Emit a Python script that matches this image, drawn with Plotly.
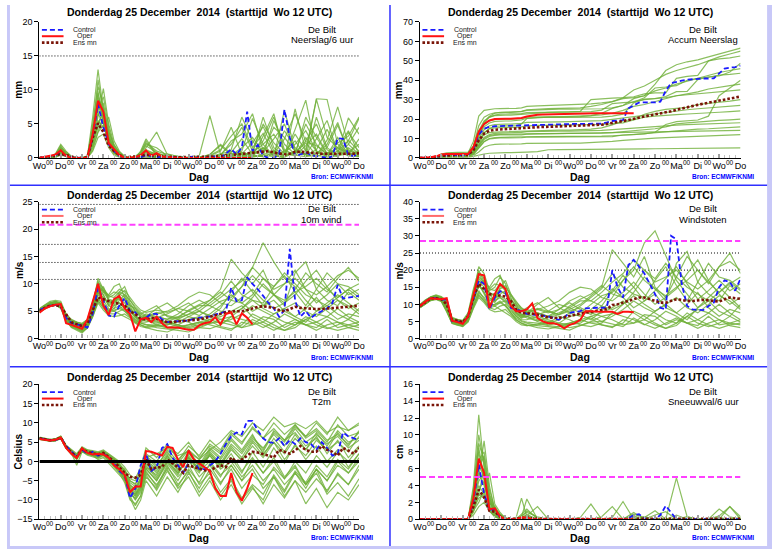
import plotly.graph_objects as go

W, H = 778, 554
FONT = "Liberation Sans, Arial, sans-serif"

# ---------------- axes / labels ----------------
DAYS = ["Wo", "Do", "Vr", "Za", "Zo", "Ma", "Di", "Wo", "Do", "Vr", "Za", "Zo", "Ma", "Di", "Wo", "Do"]
MIDNIGHT = "00"
T6 = list(range(0, 361, 6))                                   # control / ens-mean time (h)
T_OPER = list(range(0, 241, 6))                               # oper run time (h)
T_MEM = list(range(0, 121, 6)) + list(range(132, 361, 12))    # member time (h)
TITLE = "Donderdag 25 December\u00a0 2014\u00a0 (starttijd\u00a0 Wo 12 UTC)"
STATION = "De Bilt"
SOURCE = "Bron: ECMWF/KNMI"

# ---------------- Neerslag/6 uur (mm) ----------------
prec_ctrl = [0,0.1,0.2,0.4,0.8,0.3,0.1,0,0,0, 3.0,7.9,4.5,2.0,1.0,0.3,0,0,0,0.1,
             0.4,0.2,0.1,0.2,0.2,0.1,0.1,0,0.1,0.2, 0,0,0.1,0.2,0.1,0.6,1.3,0.5,1.5,6.8,
             1.0,1.9,0.3,0,0,0.5,7.1,3.0,0.3,0.5, 0.8,0.4,0.3,0.1,0,0.2,2.9,2.8,0.4,0.3, 0.6]
prec_oper = [0,0.1,0.3,0.5,1.1,0.3,0,0,0,0, 3.5,8.4,6.8,2.2,1.3,0.4,0,0,0.1,0.4,
             1.1,0.3,0.7,0.2,0.1,0,0,0,0,0, 0,0,0,0,0,0,0,0,0,0, 0]
prec_mean = [0,0.1,0.2,0.3,0.6,0.4,0.1,0,0,0.1, 3.0,5.1,3.8,1.8,1.0,0.4,0.1,0.1,0.2,0.3,
             0.5,0.4,0.3,0.2,0.2,0.1,0.1,0.1,0.1,0.1, 0.2,0.2,0.2,0.2,0.3,0.3,0.4,0.5,0.6,0.7,
             0.8,0.8,0.9,1.0,0.8,0.6,0.5,0.6,0.9,0.9, 0.8,0.7,0.6,0.6,0.6,0.6,0.5,0.5,0.5,0.6, 0.7]
prec_members = [
    [0,0,0.2,0.5,1.8,0.6,0.1,0,0,0.2,6.0,13.0,7.0,3.0,1.5,0.5,0.1,0,0.2,0.8,2.5,
     0.3,0.1,0,0,0.2,0.1,0.5,2.0,4.5,1.0,0.3,5.5,2.0,0.5,3.0,1.0,0.2,1.5,4.0,0.5],
    [0,0,0.1,0.3,1.2,0.4,0,0,0,0,2.0,6.0,10.2,5.0,2.0,0.8,0.2,0,0,0.2,0.5,
     0.1,0,0,0.1,0.3,6.2,0.5,0.2,0,0.3,1.5,0.4,0,7.2,1.0,8.7,8.6,2.0,0.5,1.0],
    [0,0,0,0.2,0.8,0.3,0,0,0,0,1.5,4.0,6.2,2.5,1.0,0.2,0,0,0,1.0,2.8,
     0.5,0,0,0,0,0,0.2,0.5,1.0,5.8,2.0,0.3,1.0,2.5,0.2,6.0,1.5,0.4,2.0,4.5],
    [0,0,0.2,0.4,1.5,0.8,0.2,0,0,0.1,3.5,9.5,5.0,2.0,0.8,0.3,0,0,0.3,0.5,0.4,
     0.2,0.6,0.2,0,0,0.3,1.0,4.5,0.5,0.2,3.2,6.5,0.5,0.8,5.0,2.0,0.4,3.0,0.3,0.2],
    [0,0,0,0.1,0.6,0.2,0,0,0,0,1.0,3.0,3.5,1.5,0.4,0.1,0,0,0,0.1,0.3,
     0,0,0,0,0,0,0,0.3,0.8,0.4,0.2,0.8,4.0,1.5,0.3,0.5,2.0,5.2,0.8,0.3],
    [0,0,0.1,0.3,1.0,0.5,0.1,0,0,0.3,4.5,7.5,8.0,4.0,1.8,0.6,0.1,0,0,0.3,1.5,
     3.8,0.5,0.1,0,0,0.2,0,1.2,6.0,2.5,0.5,1.0,0.2,4.2,8.5,0.8,0.3,1.0,2.5,5.8],
    [0,0,0,0.2,0.9,0.3,0,0,0,0,2.5,5.5,4.5,6.0,2.5,1.0,0.2,0,0,0.2,0.6,
     0.2,0.1,0,0,0,0,0,0,0.3,1.0,5.0,2.2,0.6,0.3,1.8,3.5,0.6,0.2,1.2,0.4],
    [0,0,0.2,0.6,2.0,1.0,0.2,0,0,0,3.0,8.0,6.0,3.5,1.2,0.4,0,0,0.1,0.4,1.0,
     0.6,0.2,0.1,0,0,0.5,2.0,0.6,0.2,0.1,0.4,0.2,7.0,1.2,0.5,2.8,5.5,0.8,3.8,1.5],
    [0,0,0,0.1,0.5,0.2,0,0,0,0,1.8,4.5,5.5,2.0,0.6,0.2,0,0,0,0,0.2,
     0,0,0,0,0,0,0,0,0.2,0.5,1.5,0.3,0.1,0.8,2.2,0.4,0.1,0.3,0.6,0.2],
    [0,0,0.1,0.4,1.3,0.6,0.1,0,0,0.1,5.0,10.5,7.5,3.0,1.0,0.3,0,0,0.2,0.6,2.0,
     1.5,0.3,0.1,0,0,0.1,0.3,2.5,3.5,6.5,1.0,4.5,3.0,1.0,0.6,8.6,3.0,1.5,0.5,2.8],
    [0,0,0,0.2,0.7,0.3,0,0,0,0,2.2,5.0,7.0,3.0,1.0,0.4,0.1,0,0,0.1,0.2,
     0.1,0,0,0,0,0,0.1,0.6,0.3,0.8,2.5,6.0,1.2,0.4,0.2,0.5,1.5,4.8,1.0,0.6],
    [0,0,0.1,0.3,1.1,0.4,0,0,0,0,3.2,6.5,5.0,2.2,0.8,0.2,0,0,0,0.3,0.8,
     0.4,0.1,0,0,0,0,0.4,0.3,0.6,0.3,0.2,0.5,0.8,2.0,4.0,1.0,0.4,0.6,5.9,3.5],
    [0,0,0.1,0.2,0.9,0.5,0,0,0,0,2.8,7.0,9.0,4.5,1.5,0.5,0.1,0,0,0.2,0.9,
     0.3,0,0,0,0.1,0.5,1.8,0.4,1.5,3.0,0.8,2.8,5.0,1.0,0.4,1.2,4.2,1.0,0.3,0.8],
    [0,0,0.2,0.5,1.6,0.7,0.1,0,0,0.2,4.0,11.5,6.5,2.8,1.2,0.4,0,0,0.1,0.5,1.8,
     0.8,0.2,0,0,0,0,0,0.8,2.8,0.5,6.0,1.5,0.3,3.5,1.0,0.4,2.6,7.5,2.0,0.5],
    [0,0,0,0.1,0.4,0.2,0,0,0,0,1.2,3.8,4.8,2.5,0.8,0.2,0,0,0,0,0.1,
     0,0,0,0,0,0.2,0,0,0,0.2,0.3,0.5,0.2,1.0,0.4,0.2,0.8,0.3,1.5,0.4],
    [0,0,0.1,0.4,1.4,0.6,0.1,0,0,0,3.8,8.8,7.2,3.2,1.4,0.6,0.2,0,0.2,0.8,2.2,
     1.0,0.5,0.2,0,0.1,0.4,1.2,3.2,5.0,1.5,3.6,0.6,2.8,6.5,2.4,1.8,0.6,2.2,3.2,6.0],
    [0,0,0,0.3,1.0,0.4,0,0,0,0,2.0,4.8,6.8,3.8,1.8,0.8,0.2,0,0,0.1,0.4,
     0.1,0,0,0,0,0,0,0.2,0.6,2.2,4.6,1.0,0.4,0.6,2.5,5.0,1.2,0.5,2.6,1.0],
    [0,0,0.2,0.5,1.4,0.5,0.1,0,0,0.1,3.0,9.8,5.5,2.0,0.9,0.3,0,0,0.1,0.3,1.2,
     0.5,0.2,0,0,0,0.2,0.6,1.0,0.4,0.8,2.0,3.5,1.0,0.5,6.0,3.0,0.6,1.5,0.8,2.0],
]

# ---------------- Accum Neerslag (mm) ----------------
acc_ctrl = [0,0,0.2,0.5,1.2,1.4,1.5,1.5,1.5,1.5, 4.5,12.0,15.0,16.0,16.3,16.4,16.4,16.4,16.4,16.5,
            16.8,17.0,17.0,17.1,17.2,17.3,17.3,17.4,17.5,17.5, 17.5,17.5,17.5,17.6,17.7,18.3,19.0,19.2,19.5,25.5,
            27.0,28.5,28.6,28.6,28.6,29.0,34.5,38.5,39.3,39.8, 40.3,40.6,40.8,40.9,40.9,41.0,43.5,46.0,46.5,46.8, 47.5]
acc_oper = [0,0.1,0.3,0.8,1.7,2.0,2.0,2.0,2.0,2.0, 5.5,13.5,17.5,19.3,20.0,20.2,20.2,20.2,20.3,20.6,
            21.3,21.8,22.2,22.3,22.4,22.5,22.6,22.7,22.8,22.9, 22.9,22.9,23.0,23.0,23.0,23.0,23.0,23.0,23.0,23.0, 23.0]
acc_mean = [0,0.1,0.2,0.5,1.1,1.3,1.4,1.4,1.4,1.5, 4.0,9.0,12.5,14.0,14.5,14.7,14.8,14.9,15.0,15.2,
            15.5,15.6,15.8,15.9,16.0,16.0,16.1,16.1,16.2,16.3, 16.4,16.5,16.6,16.8,17.1,17.5,17.9,18.4,19.0,19.5,
            20.0,20.6,21.3,21.9,22.4,22.9,23.4,24.0,24.8,25.5, 26.1,26.7,27.3,27.9,28.4,28.8,29.3,29.9,30.5,31.0, 31.6]
acc_members = [
    [0,0,0.2,0.6,1.8,2.2,2.3,2.3,2.3,2.5,8.5,21.5,24.5,25.0,25.3,25.4,25.4,25.4,25.5,25.8,26.5,
     26.8,27.0,27.0,27.1,27.3,27.8,28.3,29.0,30.5,31.0,32.0,38.0,45.0,48.0,49.5,50.5,52.0,53.5,55.0,56.5],
    [0,0,0.1,0.4,1.2,1.6,1.7,1.7,1.7,1.8,4.0,10.0,18.0,21.0,22.0,22.5,22.6,22.6,22.6,22.8,23.3,
     23.5,23.6,23.6,23.7,24.0,30.0,30.5,30.8,31.0,31.5,33.0,33.5,33.5,41.0,42.0,42.5,50.0,51.0,51.5,52.5],
    [0,0,0,0.2,0.8,1.1,1.1,1.1,1.1,1.1,2.6,6.6,12.8,15.3,16.3,16.5,16.5,16.5,16.5,17.5,20.3,
     20.8,20.8,20.8,20.8,20.8,20.8,21.0,21.5,22.5,28.3,30.3,30.6,31.6,34.1,34.3,40.3,41.8,42.2,44.2,48.7],
    [0,0,0.2,0.6,2.0,2.6,2.8,2.8,2.8,2.9,6.0,14.0,19.0,21.0,21.8,22.0,22.0,22.0,22.2,22.5,22.8,
     23.0,23.4,23.6,23.6,23.6,23.8,24.6,28.0,28.5,28.7,31.0,36.0,36.5,37.2,40.0,41.0,41.4,42.6,43.0,43.6],
    [0,0,0,0.1,0.6,0.8,0.8,0.8,0.8,0.8,1.8,4.8,8.3,9.8,10.2,10.3,10.3,10.3,10.3,10.4,10.7,
     10.7,10.7,10.7,10.7,10.7,10.7,10.7,11.0,11.8,12.2,12.4,13.2,17.2,18.7,19.0,19.5,21.5,32.0,36.0,40.0],
    [0,0,0.1,0.4,1.4,1.9,2.0,2.0,2.0,2.2,5.5,12.0,18.5,21.5,23.0,23.5,23.6,23.6,23.6,23.8,24.5,
     24.8,25.0,25.1,25.1,25.1,25.3,25.3,25.8,27.0,29.0,30.0,30.5,31.0,32.0,32.5,33.0,33.5,34.0,34.5,35.0],
    [0,0,0.2,0.5,1.6,2.0,2.1,2.1,2.1,2.1,4.0,9.0,12.0,13.0,13.3,13.4,13.4,13.4,13.5,13.7,14.0,
     14.2,14.3,14.3,14.3,14.5,14.8,15.5,17.0,19.0,20.0,22.5,24.0,25.0,25.5,26.0,27.5,28.0,28.5,29.2,30.0],
    [0,0,0,0.3,1.0,1.3,1.3,1.3,1.3,1.3,3.0,8.0,13.0,15.0,15.5,15.6,15.6,15.6,15.7,16.0,16.5,
     16.7,16.8,16.8,16.8,16.9,17.0,17.2,17.6,18.0,19.5,21.0,21.5,22.0,22.3,22.6,23.0,23.3,23.5,23.8,24.2],
    [0,0,0.1,0.3,1.1,1.4,1.5,1.5,1.5,1.5,2.5,6.5,10.0,11.5,12.0,12.1,12.1,12.1,12.1,12.2,12.4,
     12.5,12.5,12.5,12.6,12.6,12.6,12.8,13.0,13.5,14.0,14.5,15.0,16.0,17.5,18.0,18.5,19.0,19.3,19.6,20.0],
    [0,0,0,0.2,0.8,1.0,1.0,1.0,1.0,1.0,2.0,5.0,8.5,10.0,10.5,10.6,10.6,10.6,10.6,10.7,10.9,
     11.0,11.0,11.0,11.0,11.0,11.1,11.2,11.4,11.6,12.0,12.5,13.0,13.5,14.0,14.5,14.8,15.0,15.3,15.6,16.0],
    [0,0,0,0.1,0.5,0.6,0.6,0.6,0.6,0.6,1.2,3.0,5.5,6.5,7.0,7.1,7.1,7.1,7.1,7.2,7.5,
     7.6,7.6,7.6,7.6,7.6,7.8,8.0,8.5,9.0,9.5,10.0,10.2,10.4,10.6,10.8,11.0,11.3,11.6,11.8,12.0],
    [0,0,0,0.1,0.3,0.4,0.4,0.4,0.4,0.4,0.8,1.5,2.0,2.4,2.6,2.7,2.7,2.7,2.7,2.8,3.0,
     3.2,4.2,4.3,4.3,4.3,4.4,4.4,4.5,4.5,4.6,4.6,4.7,4.8,4.8,4.9,5.0,5.0,5.0,5.1,5.2],
    [0,0,0.2,0.5,1.6,2.0,2.1,2.1,2.1,2.2,6.0,16.5,21.0,22.5,23.2,23.4,23.4,23.4,23.6,24.0,24.8,
     25.2,25.4,25.5,25.5,25.8,26.5,27.5,29.0,31.0,35.0,37.0,40.0,43.0,45.0,46.5,48.0,50.0,52.0,53.5,55.0],
    [0,0,0.1,0.3,1.2,1.5,1.6,1.6,1.6,1.7,4.5,11.5,16.0,18.0,18.8,19.0,19.0,19.0,19.2,19.6,20.4,
     20.8,21.0,21.0,21.1,21.3,21.8,23.0,25.5,27.0,30.5,32.0,34.5,36.0,38.0,39.5,41.0,42.5,44.0,45.0,46.0],
    [0,0,0.1,0.4,1.3,1.7,1.8,1.8,1.8,1.9,5.0,12.5,17.0,19.0,19.8,20.0,20.0,20.0,20.1,20.4,21.0,
     21.2,21.3,21.3,21.4,21.5,21.8,22.2,23.0,24.5,26.5,27.5,29.0,30.5,32.0,33.0,34.0,35.5,36.5,37.2,38.0],
    [0,0,0,0.2,0.9,1.2,1.2,1.2,1.2,1.2,3.5,9.5,14.5,16.5,17.2,17.4,17.4,17.4,17.5,17.8,18.3,
     18.5,18.6,18.6,18.7,18.8,19.0,19.2,19.8,20.5,21.5,22.0,22.8,23.5,24.0,24.8,25.3,25.8,26.2,26.6,27.0],
    [0,0,0.1,0.3,1.0,1.3,1.4,1.4,1.4,1.4,3.0,7.0,10.5,12.0,12.6,12.8,12.8,12.8,12.9,13.1,13.5,
     13.7,13.8,13.8,13.8,13.9,14.0,14.2,14.6,15.0,15.5,16.0,16.3,16.6,16.9,17.1,17.3,17.5,17.7,17.9,18.1],
    [0,0,0,0.2,0.7,0.9,0.9,0.9,0.9,0.9,2.2,6.0,9.5,11.0,11.6,11.8,11.8,11.8,11.8,11.9,12.2,
     12.3,12.3,12.3,12.3,12.4,12.5,12.6,12.8,13.0,13.2,13.3,13.4,13.5,13.6,13.7,13.8,13.9,14.0,14.1,14.2],
]

# ---------------- 10m wind (m/s) ----------------
wind_ctrl = [5.2,5.6,6.0,6.2,5.8,3.8,2.8,2.6,2.4,2.0, 4.5,9.3,7.0,4.2,4.0,6.0,7.4,5.0,4.8,3.5,
             3.8,4.5,4.5,3.5,3.0,3.1,3.2,3.3,3.3,3.6, 3.8,4.0,4.0,4.4,4.6,5.0,9.3,6.8,7.0,11.2,
             10.0,9.0,7.8,6.5,5.5,4.0,5.2,16.4,7.0,4.0, 5.0,3.8,4.5,5.0,5.5,6.5,9.8,7.3,7.5,7.6, 7.8]
wind_oper = [4.7,5.5,5.9,6.2,6.3,2.8,2.5,2.2,1.8,3.5, 7.0,10.0,6.0,4.3,7.2,7.8,5.5,4.5,1.3,3.5,
             3.8,3.0,4.0,2.8,2.0,2.0,2.0,1.8,1.6,1.6, 2.4,2.8,3.0,3.9,2.6,4.5,4.8,2.6,4.6,3.8, 2.6]
wind_mean = [5.0,5.6,6.0,6.1,5.9,4.5,3.0,2.6,2.3,2.8, 5.0,7.5,7.2,6.8,6.5,6.4,6.0,5.0,4.5,3.6,
             3.5,3.8,3.6,3.2,3.0,3.0,3.1,3.2,3.2,3.3, 3.5,3.7,4.0,4.2,4.5,4.8,5.0,5.0,5.0,5.2,
             5.5,5.8,5.9,5.8,5.6,5.2,5.0,5.4,5.8,5.6, 5.5,5.4,5.4,5.4,5.5,5.5,5.6,5.7,5.8,5.9, 6.0]
wind_members = [
    [5.0,5.8,6.4,6.8,6.5,4.0,3.0,2.5,2.0,3.0,6.0,11.0,9.0,7.5,8.0,9.0,8.5,6.5,5.0,4.5,5.0,
     6.0,4.0,3.5,4.5,5.5,7.0,9.0,14.5,12.0,10.0,12.5,8.0,6.5,9.0,12.0,10.0,8.5,11.0,13.0,10.5],
    [5.3,6.0,6.3,6.5,6.0,3.5,2.5,2.2,1.5,2.5,5.0,8.5,6.5,5.0,6.0,8.5,9.5,7.0,5.5,4.0,3.5,
     2.5,2.0,2.5,3.5,4.0,3.0,4.5,7.0,9.5,13.0,17.5,14.0,11.0,9.5,7.0,5.0,6.5,8.0,6.5,5.0],
    [4.8,5.5,6.0,6.2,5.5,3.2,2.0,1.5,1.0,2.0,4.0,7.0,5.5,4.5,4.5,5.0,5.5,4.0,3.0,2.5,2.0,
     1.5,1.2,2.0,2.5,3.0,2.5,2.0,1.5,3.0,2.5,4.0,3.5,2.0,3.0,2.5,2.0,3.5,2.0,2.5,3.0],
    [5.5,6.2,6.8,7.0,6.8,4.5,3.5,3.0,2.8,3.5,7.0,10.0,8.0,6.0,5.5,7.0,8.0,6.0,4.0,3.0,4.0,
     5.5,6.5,5.0,4.0,5.0,6.5,8.0,10.5,8.0,7.0,6.5,9.5,11.5,8.5,6.0,9.0,12.0,10.0,9.5,8.0],
    [5.0,5.6,6.1,6.3,5.8,4.0,2.8,2.4,2.2,2.8,5.5,8.0,7.5,6.5,7.0,6.5,5.5,4.5,3.5,3.0,3.0,
     3.5,3.0,2.5,2.0,2.5,3.5,4.0,5.0,6.0,4.0,3.0,4.5,5.5,4.0,3.0,5.0,6.0,4.5,3.5,5.5],
    [5.2,5.9,6.5,6.6,6.2,3.8,2.6,2.0,1.8,2.5,5.5,9.5,8.5,8.0,9.5,10.0,7.5,5.5,4.0,3.5,4.5,
     4.0,3.5,4.5,6.0,7.0,6.0,5.0,4.5,5.5,7.5,10.0,8.0,6.0,12.0,14.0,9.0,7.0,6.0,8.5,7.0],
    [4.9,5.6,6.2,6.4,6.0,3.5,2.4,2.0,1.6,2.2,4.5,7.5,6.0,5.0,5.5,6.0,5.0,4.0,3.2,2.8,2.5,
     2.0,1.8,1.5,1.2,2.0,2.8,3.5,3.0,2.0,2.5,3.0,2.0,1.5,2.5,4.0,3.0,2.0,1.5,2.0,2.5],
    [5.4,6.1,6.6,6.8,6.5,4.2,3.2,2.8,2.4,3.2,6.0,9.0,8.0,6.0,6.5,7.5,7.0,6.0,5.5,4.5,4.0,
     4.5,5.0,6.0,7.5,8.5,8.0,6.5,6.0,7.5,9.0,7.0,5.5,6.5,8.0,10.5,12.5,9.5,7.0,5.5,6.5],
    [5.1,5.7,6.2,6.5,6.1,3.8,2.7,2.3,1.9,2.6,5.0,8.5,7.0,5.5,5.0,5.5,6.0,5.0,3.8,3.2,3.5,
     3.0,2.5,3.0,4.0,3.5,4.5,6.0,8.0,6.5,5.0,6.0,7.0,5.0,4.0,5.5,7.5,5.0,3.5,4.5,4.0],
    [5.0,5.5,6.0,6.2,5.9,3.6,2.5,2.1,1.7,2.4,4.8,8.2,9.5,7.0,6.0,6.5,6.0,5.5,4.8,4.0,3.8,
     3.2,2.8,2.2,2.5,3.0,3.5,2.8,3.5,4.5,6.0,5.0,4.0,3.0,2.5,3.5,4.5,4.0,3.0,2.5,2.0],
    [5.3,6.0,6.4,6.6,6.3,4.4,3.3,2.9,2.6,3.3,6.5,10.5,8.5,7.0,7.0,7.5,7.0,5.0,4.0,3.5,3.5,
     4.0,3.5,4.0,5.0,6.0,6.0,7.5,9.0,10.5,13.0,11.0,9.0,10.0,11.0,9.0,8.0,9.5,11.5,12.5,11.0],
    [4.9,5.5,6.1,6.3,5.8,3.4,2.2,1.8,1.3,2.0,4.2,6.8,5.8,4.8,5.0,4.5,4.0,3.5,2.8,2.2,2.0,
     2.2,2.5,3.5,3.0,2.0,1.8,2.5,4.0,3.5,3.0,2.0,3.0,4.5,3.5,2.5,3.0,4.0,5.5,4.0,3.0],
    [5.1,5.8,6.3,6.6,6.3,4.1,3.1,2.7,2.5,3.1,5.8,9.8,8.8,7.2,6.8,8.0,8.8,7.5,6.2,5.2,4.8,
     5.2,4.8,5.5,6.5,5.0,4.0,5.5,8.5,11.0,8.5,6.0,8.0,10.0,12.5,9.0,6.5,8.0,10.0,8.0,9.0],
    [4.8,5.4,5.9,6.1,5.6,3.3,2.1,1.7,1.2,1.9,4.0,6.5,5.2,4.2,4.0,4.2,4.5,3.8,3.0,2.5,2.2,
     2.5,3.0,2.5,1.8,2.2,2.8,3.0,2.5,2.0,3.5,2.5,1.5,2.5,3.5,2.5,1.5,2.5,3.0,2.0,1.5],
    [5.2,5.9,6.5,6.7,6.4,4.3,3.4,3.0,2.7,3.4,6.2,9.0,8.8,7.8,7.5,8.5,8.0,7.0,5.8,4.8,4.2,
     3.8,4.5,5.5,5.0,4.2,5.5,6.8,7.5,9.5,11.5,9.5,8.0,7.0,8.5,9.5,11.0,9.0,7.5,9.0,10.0],
    [5.0,5.7,6.2,6.4,6.0,3.7,2.6,2.2,1.9,2.7,5.2,8.8,7.5,6.2,6.8,7.2,6.5,5.2,4.2,3.6,3.2,
     2.8,3.2,3.8,4.5,5.0,4.2,3.5,4.0,5.5,7.0,5.5,4.5,5.5,6.5,5.0,4.0,5.5,7.0,6.0,4.5],
    [5.3,6.0,6.5,6.7,6.3,4.0,2.9,2.5,2.2,3.0,5.6,10.2,9.2,7.8,8.5,8.2,7.5,6.2,5.0,4.2,4.0,
     4.8,4.2,3.8,5.2,6.2,7.0,8.5,7.0,6.5,8.0,11.0,9.5,12.0,10.0,8.0,7.0,6.0,7.5,9.0,7.5],
    [4.9,5.5,6.0,6.2,5.7,3.4,2.3,1.9,1.4,2.1,4.4,7.2,6.2,5.2,5.2,5.5,5.0,4.2,3.4,2.8,2.6,
     2.4,2.0,1.8,2.2,2.8,3.2,2.2,1.8,2.5,4.5,3.5,2.5,1.5,2.0,3.5,2.5,1.8,2.5,3.5,2.5],
]

# ---------------- Windstoten (m/s) ----------------
gust_ctrl = [9.5,10.8,11.8,11.8,11.3,11.5,5.0,5.0,4.5,6.5, 11.5,17.0,16.0,8.5,12.0,13.8,13.5,9.0,8.5,8.0,
             7.2,7.0,6.8,6.6,6.5,6.0,5.5,6.2,7.5,7.8, 8.0,8.8,9.0,9.0,9.0,9.0,20.0,15.0,12.0,21.5,
             23.0,21.0,19.0,16.0,13.0,9.0,8.5,30.0,29.0,16.0, 9.5,8.5,8.5,8.3,9.5,10.5,15.0,17.0,16.5,14.0, 17.5]
gust_oper = [9.5,10.8,11.8,11.7,11.5,11.8,5.2,4.8,4.3,6.5, 13.0,18.8,18.5,9.0,13.0,16.0,14.5,9.5,8.0,8.0,
             8.5,10.3,6.0,5.0,4.5,4.5,4.0,3.0,4.0,4.5, 5.5,8.0,8.0,7.8,7.8,7.8,7.8,7.2,7.8,7.8, 7.7]
gust_mean = [9.5,10.7,11.7,11.8,11.5,10.0,5.5,5.2,4.8,6.5, 12.0,16.0,14.5,13.0,12.8,12.5,12.3,11.0,8.5,7.5,
             7.5,7.3,7.0,6.5,6.2,6.0,6.0,6.2,6.6,7.0, 7.4,7.6,7.8,8.0,8.2,8.6,9.8,10.0,10.5,11.0,
             11.5,12.0,12.0,11.5,11.0,10.5,10.5,11.0,11.5,11.3, 11.0,11.0,11.2,11.3,11.2,11.0,10.8,11.5,12.0,11.8, 11.6]
gust_members = [
    [9.3,10.5,11.5,12.0,11.8,10.5,5.5,5.0,4.8,7.0,13.0,21.0,19.0,14.0,15.0,18.0,16.0,12.0,9.0,8.0,9.0,
     10.5,8.0,7.0,8.5,10.0,12.5,15.0,26.0,22.0,18.0,24.0,15.0,12.0,18.0,24.0,20.0,16.0,21.0,25.0,19.0],
    [9.8,11.0,12.0,12.5,12.0,9.0,5.0,4.5,4.0,6.0,11.0,16.0,13.0,10.0,11.0,15.0,17.0,13.0,10.0,7.0,6.5,
     5.0,4.0,4.5,6.5,7.0,5.5,8.0,12.0,17.0,20.0,28.0,31.5,24.0,17.0,13.0,9.0,12.0,15.0,12.0,9.0],
    [9.0,10.2,11.2,11.5,11.0,8.0,4.5,4.0,3.8,5.0,9.0,13.0,11.0,9.0,8.5,9.5,10.0,7.5,5.5,4.5,4.0,
     3.2,2.8,3.5,4.5,5.5,4.5,4.0,3.2,5.5,4.5,7.0,6.5,4.0,5.5,4.5,3.8,6.5,4.0,4.5,5.5],
    [10.0,11.3,12.2,12.8,12.3,11.0,6.0,5.5,5.2,7.2,14.0,19.0,16.0,12.0,10.5,13.0,14.0,11.0,7.5,6.0,7.5,
     10.0,12.0,9.0,7.5,9.5,12.0,14.5,19.0,15.0,13.0,12.0,17.0,21.0,15.5,11.0,16.5,22.0,18.0,17.0,14.5],
    [9.4,10.6,11.6,11.9,11.4,9.5,5.3,4.9,4.6,6.5,12.0,15.0,14.5,12.5,13.0,12.0,10.5,8.5,6.5,5.5,5.5,
     6.5,5.5,4.5,4.0,4.5,6.5,7.5,9.0,11.0,7.5,5.5,8.0,10.0,7.5,5.5,9.0,11.0,8.0,6.5,10.0],
    [9.6,10.9,11.9,12.2,11.7,10.0,5.4,4.7,4.4,6.2,12.5,18.0,16.5,15.0,17.5,18.5,14.0,10.5,7.5,6.5,8.5,
     7.5,6.5,8.5,11.0,12.5,11.0,9.5,8.5,10.0,13.5,18.0,14.5,11.0,22.0,25.5,16.5,13.0,11.0,15.5,13.0],
    [9.2,10.3,11.3,11.7,11.2,8.5,4.8,4.3,3.9,5.5,10.0,14.0,11.5,9.5,10.0,11.0,9.5,7.5,6.0,5.0,4.5,
     3.8,3.5,3.0,2.5,3.8,5.0,6.5,5.5,4.0,4.5,5.5,4.0,3.0,4.5,7.5,5.5,4.0,3.0,4.0,4.5],
    [9.9,11.2,12.1,12.6,12.1,10.8,5.8,5.3,5.0,6.8,13.0,17.0,15.0,11.5,12.0,14.0,13.0,11.0,10.0,8.5,7.5,
     8.5,9.5,11.0,13.5,15.0,14.5,12.0,11.0,13.5,16.5,13.0,10.0,12.0,14.5,19.0,23.0,17.0,13.0,10.0,12.0],
    [9.5,10.7,11.6,12.0,11.5,9.8,5.2,4.8,4.5,6.3,11.5,16.0,13.5,10.5,9.5,10.5,11.0,9.0,7.0,6.0,6.5,
     5.5,4.5,5.5,7.5,6.5,8.5,11.0,14.5,12.0,9.0,11.0,13.0,9.0,7.5,10.0,13.5,9.0,6.5,8.5,7.5],
    [9.3,10.4,11.4,11.8,11.3,9.2,5.0,4.5,4.2,5.8,10.5,15.5,17.0,13.0,11.0,12.0,11.0,10.0,8.5,7.0,7.0,
     6.0,5.0,4.0,4.5,5.5,6.5,5.0,6.5,8.5,11.0,9.0,7.5,5.5,4.5,6.5,8.5,7.5,5.5,4.5,4.0],
    [9.7,11.0,12.0,12.4,12.0,11.2,6.2,5.6,5.3,7.5,14.5,20.0,16.5,13.0,13.0,14.0,13.0,9.5,7.5,6.5,6.5,
     7.5,6.5,7.5,9.0,11.0,11.0,13.5,16.5,19.0,23.0,20.0,16.5,18.0,20.0,16.5,14.5,17.0,21.0,22.5,20.0],
    [9.1,10.2,11.2,11.6,11.0,8.2,4.6,4.1,3.6,5.2,9.5,12.5,11.0,9.0,9.5,8.5,7.5,6.5,5.0,4.0,3.8,
     4.0,4.5,6.5,5.5,4.0,3.5,4.5,7.5,6.5,5.5,4.0,5.5,8.0,6.5,4.5,5.5,7.5,10.0,7.5,5.5],
    [9.4,10.6,11.7,12.1,11.6,10.2,5.6,5.1,4.7,6.6,12.5,17.5,16.0,13.5,12.5,14.5,15.5,12.5,10.5,9.0,8.0,
     8.5,7.5,8.5,10.5,8.5,7.0,9.5,14.0,18.5,15.0,11.0,14.0,17.5,21.0,16.0,11.5,14.0,17.0,14.0,16.0],
    [9.0,10.1,11.1,11.4,10.8,7.8,4.4,3.9,3.5,4.8,8.8,12.0,10.5,8.5,7.8,8.0,8.5,7.0,5.5,4.5,3.8,
     4.2,5.0,4.0,3.2,3.8,4.8,5.0,4.2,3.5,6.0,4.2,3.0,4.5,6.0,4.5,3.0,4.5,5.5,3.8,3.2],
    [9.6,10.8,11.8,12.3,11.8,10.6,5.9,5.4,5.0,6.9,13.5,16.5,16.5,14.5,14.0,16.0,15.0,13.0,11.0,8.8,7.8,
     7.0,8.0,10.0,9.0,7.5,10.0,12.5,13.5,17.0,21.0,17.0,14.5,12.5,15.0,17.0,20.0,16.5,13.5,16.0,18.0],
    [9.5,10.7,11.7,12.0,11.5,9.6,5.1,4.6,4.3,6.1,11.0,15.5,13.5,11.0,12.0,12.5,11.5,9.5,7.8,6.8,6.0,
     5.2,6.0,7.0,8.0,9.0,7.5,6.5,7.2,10.0,12.5,10.0,8.0,10.0,12.0,9.0,7.5,10.0,12.5,11.0,8.5],
    [9.8,11.1,12.1,12.5,12.0,10.4,5.6,5.1,4.8,6.7,12.0,19.5,17.5,14.5,16.0,15.5,14.0,11.5,9.5,8.0,7.5,
     8.8,8.0,7.0,9.5,11.5,13.0,15.5,13.0,12.0,15.0,20.0,17.5,22.0,18.0,15.0,13.0,11.0,13.5,16.5,14.0],
    [9.2,10.3,11.2,11.6,11.1,8.4,4.7,4.2,3.7,5.3,9.8,13.5,12.0,9.8,10.0,10.5,9.5,8.0,6.5,5.2,4.8,
     4.5,3.8,3.4,4.0,5.0,6.0,4.0,3.5,4.5,8.0,6.5,4.5,3.0,3.8,6.5,4.5,3.5,4.5,6.5,4.8],
]

# ---------------- T2m (Celsius) ----------------
t2m_ctrl = [6.0,5.8,5.5,5.5,6.2,4.0,2.5,1.2,3.0,2.0, 2.5,1.5,2.0,1.0,-0.5,-2.5,-3.5,-9.5,-7.0,-1.0,
            2.0,-2.5,-1.5,3.5,4.5,1.0,-1.0,-3.0,-0.5,0.0, -2.0,-2.0,-1.0,0.0,2.0,4.5,6.5,7.5,7.0,10.5,
            10.5,8.0,6.0,5.0,4.8,6.0,4.0,5.5,4.5,6.0, 5.0,4.5,3.0,5.0,3.5,1.5,2.0,7.5,6.5,6.0, 5.5]
t2m_oper = [5.8,5.6,5.4,5.6,6.2,3.5,2.0,0.9,3.4,2.2, 1.8,2.0,1.8,1.0,-1.0,-2.0,-3.5,-8.0,-6.5,-6.5,
            2.7,2.5,2.0,1.5,3.8,3.5,0.5,-1.5,2.8,0.5, -0.5,-1.5,-2.5,-7.0,-9.0,-9.0,-3.0,-8.0,-10.2,-7.0, -3.0]
t2m_mean = [6.0,5.7,5.5,5.6,6.2,3.8,2.3,1.2,3.2,2.4, 2.0,1.8,2.2,1.0,0.0,-1.5,-3.0,-4.0,-4.2,-3.5,
            0.5,-2.0,-1.5,-1.5,0.5,-0.5,-1.5,-3.0,-1.0,-1.5, -2.0,-2.3,-2.5,-1.5,-1.0,-1.5,1.0,0.0,0.5,1.5,
            2.5,2.3,2.0,1.5,1.0,3.0,2.5,2.0,2.8,4.0, 3.0,2.5,2.5,4.0,3.0,2.5,1.5,3.5,2.8,2.0, 3.5]
t2m_members = [
    [6.2,5.8,5.6,5.8,6.5,4.0,2.8,1.5,3.5,2.8,2.5,2.0,2.5,1.5,0.5,-1.0,-2.0,-5.0,-6.0,-3.0,1.0,
     2.0,3.5,1.5,2.5,0.5,3.0,5.0,8.0,6.5,10.0,8.0,11.5,9.0,10.0,8.5,10.5,7.5,9.0,8.0,10.0],
    [5.8,5.5,5.3,5.4,6.0,3.5,2.0,0.8,2.8,2.0,1.5,1.0,1.8,0.5,-1.0,-2.5,-4.5,-8.0,-10.0,-8.0,-3.0,
     -6.0,-2.0,-7.0,-4.0,-9.0,-5.0,-10.0,-6.0,-11.0,-7.0,-10.0,-4.0,-8.0,-3.0,-6.0,-2.0,-5.0,-1.0,-3.0,0.0],
    [6.1,5.7,5.5,5.7,6.3,3.8,2.5,1.2,3.2,2.4,2.2,1.8,2.2,1.2,0.0,-1.5,-3.0,-6.0,-7.5,-5.0,0.0,
     -3.0,1.0,-2.0,2.5,-1.5,3.0,0.5,4.5,2.0,6.0,3.5,7.0,4.0,8.5,5.0,7.0,4.5,6.5,3.5,5.5],
    [6.0,5.6,5.4,5.5,6.1,3.6,2.2,-1.0,2.5,1.8,1.5,0.5,1.0,-0.5,-2.0,-3.5,-5.0,-9.5,-12.5,-10.0,-5.0,
     -9.0,-4.0,-8.0,-3.0,-7.0,-2.0,-6.0,-1.0,-5.0,0.5,-3.0,1.0,-4.0,-1.0,-6.0,-2.0,-8.0,-3.0,-6.0,-1.0],
    [5.9,5.6,5.4,5.6,6.2,3.9,2.6,1.6,3.6,2.6,2.4,2.2,2.8,1.8,0.8,-0.5,-2.5,-4.5,-5.0,-2.5,2.0,
     0.0,4.0,2.0,5.0,1.0,4.0,2.0,6.0,3.0,7.0,2.0,5.0,0.5,4.0,1.5,5.5,3.0,7.5,4.0,8.0],
    [6.3,5.9,5.7,5.9,6.6,4.2,3.0,2.0,3.8,3.0,2.8,2.5,3.0,2.0,1.0,0.0,-1.5,-3.5,-4.5,-1.5,3.5,
     1.0,4.5,0.5,3.0,-1.0,1.5,-2.0,0.0,-4.0,-1.0,-5.0,-2.0,-6.0,-3.0,-7.0,-2.0,-5.0,0.0,-3.0,1.0],
    [5.7,5.4,5.2,5.3,5.9,3.4,1.8,0.5,2.6,1.6,1.2,0.8,1.5,0.0,-1.5,-3.0,-5.5,-10.0,-11.0,-9.0,-4.0,
     -7.0,-1.5,-5.0,0.0,-3.0,2.0,-1.0,3.5,0.0,5.0,1.5,6.0,2.5,7.0,3.0,6.5,2.0,5.5,1.0,4.0],
    [6.2,5.8,5.6,5.8,6.4,4.1,2.9,1.8,3.4,2.9,2.6,2.3,2.6,1.6,0.6,-1.2,-2.8,-6.5,-8.0,-4.0,1.5,
     -1.0,2.5,-1.0,1.0,-2.5,0.0,-3.5,-1.0,-5.0,-2.0,-7.0,-4.0,-9.0,-5.0,-11.0,-7.0,-12.0,-8.0,-10.0,-6.0],
    [6.0,5.7,5.5,5.6,6.2,3.7,2.4,1.0,3.0,2.2,1.8,1.4,2.0,0.8,-0.5,-2.0,-3.5,-7.0,-9.0,-6.0,-1.0,
     -4.5,0.0,-3.5,1.5,-2.0,2.5,-0.5,4.0,1.0,5.5,2.5,7.5,5.0,9.0,6.5,10.0,7.0,11.5,8.0,9.5],
    [5.9,5.5,5.3,5.5,6.0,3.5,2.1,0.7,2.7,1.9,1.6,1.2,1.6,0.4,-0.8,-2.2,-4.0,-8.5,-9.5,-7.0,-2.0,
     -5.0,-0.5,-4.0,-1.0,-6.0,-3.0,-8.0,-4.5,-9.5,-6.0,-8.5,-3.5,-7.5,-2.5,-5.5,-1.0,-4.0,0.5,-2.0,2.0],
    [6.1,5.8,5.6,5.7,6.4,4.0,2.7,1.4,3.3,2.5,2.3,1.9,2.4,1.4,0.2,-1.0,-2.5,-5.5,-6.5,-4.5,0.5,
     -2.0,2.0,-0.5,3.0,0.5,4.5,2.5,7.0,4.5,9.0,6.0,8.5,5.5,7.5,4.0,6.0,3.0,5.0,2.5,6.5],
    [5.8,5.5,5.3,5.4,6.0,3.6,2.3,1.0,2.9,2.1,1.7,1.3,1.9,0.6,-1.2,-2.8,-4.8,-7.5,-8.5,-6.5,-1.5,
     -3.5,1.5,-2.5,0.5,-4.0,-1.0,-5.5,-2.0,-7.0,-3.5,-6.0,-1.5,-4.5,0.0,-3.0,1.5,-1.5,2.5,0.0,3.5],
    [6.0,5.7,5.4,5.6,6.3,3.9,2.5,1.3,3.3,2.3,2.0,1.6,2.3,1.1,-0.2,-1.8,-3.2,-6.8,-8.5,-5.5,-0.5,
     -4.0,0.5,-3.0,2.0,-1.0,3.5,1.0,5.5,2.5,6.5,3.0,8.0,5.5,9.5,6.0,8.0,5.0,9.5,6.5,7.5],
    [5.9,5.6,5.4,5.5,6.1,3.7,2.3,1.1,3.1,2.3,1.9,1.5,2.1,0.9,-0.6,-2.1,-3.8,-7.8,-9.8,-7.5,-2.5,
     -6.5,-1.0,-6.0,-2.5,-8.0,-4.0,-9.0,-5.0,-10.0,-6.5,-11.0,-6.0,-9.5,-5.0,-8.0,-4.5,-7.5,-3.5,-6.0,-2.0],
    [6.2,5.9,5.6,5.8,6.4,4.0,2.7,1.5,3.4,2.7,2.4,2.0,2.5,1.5,0.4,-0.8,-2.2,-5.0,-5.8,-3.5,1.2,
     -1.5,3.0,0.0,4.0,1.5,5.5,3.0,7.5,5.0,8.5,6.0,10.0,7.0,9.5,6.5,8.5,5.5,7.0,4.5,7.5],
    [5.8,5.5,5.3,5.4,6.0,3.5,2.1,0.9,2.8,2.0,1.6,1.1,1.7,0.5,-1.0,-2.6,-4.6,-9.0,-11.5,-9.0,-3.5,
     -7.5,-2.5,-6.5,-2.0,-5.5,-0.5,-4.0,1.0,-3.0,2.5,-1.5,3.5,-0.5,4.5,0.5,4.0,0.0,3.0,-1.5,2.0],
    [6.1,5.8,5.5,5.7,6.3,3.8,2.6,1.3,3.2,2.4,2.2,1.9,2.3,1.3,0.1,-1.3,-2.8,-6.2,-7.0,-4.8,0.2,
     -2.5,1.5,-1.5,1.0,-2.0,1.5,-1.5,2.0,-2.5,1.0,-3.0,0.0,-4.5,-1.5,-6.0,-3.0,-8.5,-5.5,-9.0,-4.5],
    [6.0,5.6,5.4,5.6,6.2,3.6,2.3,1.1,3.0,2.2,1.8,1.4,1.9,0.7,-0.7,-2.3,-4.2,-7.8,-9.0,-6.8,-1.8,
     -5.0,0.0,-3.0,1.0,-2.5,2.0,-1.0,3.0,0.5,4.0,1.0,5.0,2.0,6.0,3.0,7.5,4.0,8.0,5.0,6.0],
]

# ---------------- Sneeuwval/6 uur (cm) ----------------
snow_ctrl = [0,0,0,0,0,0,0,0,0,0, 2.0,6.5,3.0,1.1,1.2,0.2,0,0,0,0,
             0,0,0,0,0,0,0,0,0,0, 0,0,0,0,0,0,0,0,0,0.1,
             0.5,0.6,0.1,0,0,0.5,1.6,0.8,0,0, 0,0,0,0,0,0,0,0,0,0, 0]
snow_oper = [0,0,0,0,0,0,0,0,0,0, 2.5,7.2,5.5,1.2,1.3,0.3,0,0,0,0.2,
             0.2,0,0,0,0,0,0,0,0,0, 0,0,0,0,0,0,0,0,0,0, 0]
snow_mean = [0,0,0,0,0,0,0,0,0,0, 1.5,3.5,2.6,1.0,0.9,0.3,0.1,0.05,0.05,0.15,
             0.2,0.1,0.05,0.03,0.03,0.03,0.03,0.03,0.03,0.03, 0.03,0.05,0.05,0.05,0.05,0.05,0.05,0.05,0.05,0.1,
             0.1,0.1,0.05,0.05,0.05,0.1,0.1,0.1,0.1,0.05, 0.05,0.05,0.05,0.05,0.05,0.1,0.1,0.1,0.1,0.05, 0.05]
snow_members = [
    [0,0,0,0,0,0,0,0,0,0,4.0,12.4,6.0,2.0,1.5,0.3,0,0,0.2,2.5,0.3,
     0,0,0,0,0,0,0,0,0,0,0,0,0,0,0,0,0,0,0,0],
    [0,0,0,0,0,0,0,0,0,0,2.0,5.0,9.3,4.0,1.0,0.5,0.1,0,0,0,0.4,
     1.5,0,0,0,0.2,1.8,0,0,0,0,0,0,0,4.9,0.3,0,0,0,0,0],
    [0,0,0,0,0,0,0,0,0,0,1.5,3.5,4.5,1.5,0.6,0.2,0,0,0,0.3,2.4,
     0,0.1,0,0,0,0,0,0.2,2.1,0,0,0,0,0,0,0,0,1.2,0.3,0],
    [0,0,0,0,0,0,0,0,0,0.1,3.0,8.5,5.0,2.5,1.0,0.4,0,0,0,0.2,0,
     0,0,0,0,0,0,0.3,1.5,0,0.8,0,0.5,0.9,0,0.3,0,0,0,0,0],
    [0,0,0,0,0,0,0,0,0,0,0.5,1.5,2.0,1.0,0.3,0,0,0,0,0,0,
     0,0,0,0,0,0,0,0,0,0,0,0,0,0,0,0,0,0,0,0],
    [0,0,0,0,0,0,0,0,0,0,2.5,6.0,7.5,3.0,1.2,0.6,0.2,0,0.1,0.4,0.8,
     0.3,0,0,0,0,0,0,0,0,0.6,0.2,1.0,0,0,0,0,0,0,1.5,0.3],
    [0,0,0,0,0,0,0,0,0,0,1.0,4.0,3.0,5.5,1.8,0.8,0.1,0,0,0,0.1,
     0,0,0,0,0,0,0,0,0,0,0,0,0,0,0,0,0,0,0,0],
    [0,0,0,0,0,0,0,0,0,0,3.5,10.0,6.5,2.2,0.8,0.3,0,0,0,0.2,0.5,
     0,0,0,0,0,0,0,0,0,0.4,0,0,0,0,0,0,0,0.2,0,0.2],
    [0,0,0,0,0,0,0,0,0,0,1.2,2.5,3.0,1.2,0.4,0.1,0,0,0,0,0,
     0,0,0,0,0,0,0,0,0,0,0,0,0,0,0,0,0,0,0,0],
    [0,0,0,0,0,0,0,0,0,0,2.8,7.0,8.0,3.5,1.3,0.5,0.1,0,0,0.3,1.0,
     0.2,0,0,0,0,0,0,0,0,0,0,0,0,0,0,0,0,0.4,1.5,0],
    [0,0,0,0,0,0,0,0,0,0,1.8,4.5,5.5,2.0,0.7,0.2,0,0,0,0,0.1,
     0,0,0,0,0,0,0,0,0,0,0,0,0,0,0,0,0,0,0,0],
    [0,0,0,0,0,0,0,0,0,0,2.2,5.5,4.0,1.6,0.9,0.2,0,0,0,0,0.2,
     0,0,0,0,0,0,0,0,0,0.2,0,0,0,0,0,0,0,0,0,0],
    [0,0,0,0,0,0,0,0,0,0,3.2,9.0,7.0,2.8,1.0,0.4,0,0,0,0.6,1.2,
     0,0,0,0,0,0,0,0,0,0,0.3,0,0,0.5,0,0,0,0,0,0],
    [0,0,0,0,0,0,0,0,0,0,1.5,3.0,6.0,2.5,0.8,0.3,0,0,0,0,0.3,
     0,0,0,0,0,0,0,0,0,0,0,0,0,0,0,0,0,0,0,0],
    [0,0,0,0,0,0,0,0,0,0,2.0,6.5,5.0,1.8,1.5,0.6,0.1,0,0,0,0,
     0,0,0,0,0,0,0,0,0,0,0,0,0,0,0,0,0,0,0,0],
    [0,0,0,0,0,0,0,0,0,0,1.0,2.0,3.5,1.0,0.5,0.1,0,0,0,0.2,0.5,
     0,0,0,0,0,0,0,0,0,0,0,0,0,0,0,0,0,0,0,0],
    [0,0,0,0,0,0,0,0,0,0,2.5,8.0,4.5,2.0,1.0,0.3,0,0,0,0,0.2,
     0,0,0,0,0,0,0,0,0,0,0,0,0,0,0,0,0,0,0,0],
    [0,0,0,0,0,0,0,0,0,0,0.8,3.0,2.5,1.0,0.3,0.1,0,0,0,0,0,
     0,0,0,0,0,0,0,0,0,0,0,0,0,0,0,0,0,0,0,0],
]

# ---------------- threshold lines ----------------
prec_dotted = [15]
wind_dotted = [10.8, 13.9, 17.2, 24.5]
wind_magenta = [20.8]
gust_dotted = [20, 25]
gust_magenta = [28.5]
t2m_zero = [0]
snow_magenta = [5]

PANELS = [
    dict(row=0, col=0, var="Neerslag/6 uur", unit="mm", yr=(0, 20), dt=5,
         ctrl=prec_ctrl, oper=prec_oper, mean=prec_mean, members=prec_members,
         dotted=prec_dotted, magenta=[], solid=[]),
    dict(row=0, col=1, var="Accum Neerslag", unit="mm", yr=(0, 70), dt=10,
         ctrl=acc_ctrl, oper=acc_oper, mean=acc_mean, members=acc_members,
         dotted=[], magenta=[], solid=[]),
    dict(row=1, col=0, var="10m wind", unit="m/s", yr=(0, 25), dt=5,
         ctrl=wind_ctrl, oper=wind_oper, mean=wind_mean, members=wind_members,
         dotted=wind_dotted, magenta=wind_magenta, solid=[]),
    dict(row=1, col=1, var="Windstoten", unit="m/s", yr=(0, 40), dt=5,
         ctrl=gust_ctrl, oper=gust_oper, mean=gust_mean, members=gust_members,
         dotted=gust_dotted, magenta=gust_magenta, solid=[]),
    dict(row=2, col=0, var="T2m", unit="Celsius", yr=(-15, 20), dt=5,
         ctrl=t2m_ctrl, oper=t2m_oper, mean=t2m_mean, members=t2m_members,
         dotted=[], magenta=[], solid=t2m_zero),
    dict(row=2, col=1, var="Sneeuwval/6 uur", unit="cm", yr=(0, 16), dt=2,
         ctrl=snow_ctrl, oper=snow_oper, mean=snow_mean, members=snow_members,
         dotted=[], magenta=snow_magenta, solid=[]),
]

for p in PANELS:
    assert len(p["ctrl"]) == len(T6), (p["var"], "ctrl", len(p["ctrl"]))
    assert len(p["mean"]) == len(T6), (p["var"], "mean", len(p["mean"]))
    assert len(p["oper"]) == len(T_OPER), (p["var"], "oper", len(p["oper"]))
    for i, m in enumerate(p["members"]):
        assert len(m) == len(T_MEM), (p["var"], "member", i, len(m))

# ---------------- styling / geometry (pixels) ----------------
COLS = {0: (33, 358), 1: (420, 746)}
ROWS = {0: (17.3, 155.7), 1: (200.3, 339.7), 2: (386.3, 523.7)}
TITLE_Y = {0: 7.5, 1: 193.5, 2: 378.5}
MEMBER_COLOR = "rgba(110,175,55,0.80)"
CTRL_COLOR = "#1a1aff"
OPER_COLOR = "#ff1010"
MEAN_COLOR = "#7a1408"
MAGENTA = "#ff40ff"
FRAME = "#c8c8f8"

day_ticks = list(range(0, 361, 24))
midnights = list(range(12, 361, 24))


def fx(px):
    return px / W


def fy(py):
    return 1 - py / H


def ann(text, xpx, ypx, size, color="black", bold=False, angle=0):
    return dict(text=text, x=fx(xpx), y=fy(ypx), xref="paper", yref="paper",
                showarrow=False, xanchor="center", yanchor="middle", textangle=angle,
                font=dict(family=FONT, size=size, color=color,
                          weight="bold" if bold else "normal"))


fig = go.Figure()
layout = dict(width=W, height=H, margin=dict(l=0, r=0, t=0, b=0),
              paper_bgcolor="white", plot_bgcolor="white", showlegend=False)
annotations = []
shapes = []

for k, p in enumerate(PANELS, start=1):
    sx = "" if k == 1 else str(k)
    xa, ya = "x" + sx, "y" + sx
    x0, x1 = COLS[p["col"]]
    y0, y1 = ROWS[p["row"]]
    lo, hi = p["yr"]
    common_y = dict(domain=[fy(y1), fy(y0)], range=[lo, hi], tick0=lo, dtick=p["dt"],
                    ticks="outside", ticklen=4, tickwidth=1, showgrid=False, zeroline=False,
                    tickfont=dict(family=FONT, size=9, color="black"), fixedrange=True)
    layout["xaxis" + sx] = dict(domain=[fx(x0), fx(x1)], anchor=ya, range=[0, 360],
                                tickmode="array", tickvals=day_ticks, ticktext=DAYS,
                                tickangle=0, ticklabelstandoff=-1,
                                ticks="inside", ticklen=4, tickcolor="#a0a0a0", tickwidth=1.5,
                                minor=dict(dtick=6, tick0=0, ticks="inside", ticklen=3,
                                           tickcolor="#c0c0c0", tickwidth=1),
                                showline=True, linecolor="black", linewidth=1.2,
                                showgrid=False, zeroline=False, fixedrange=True,
                                tickfont=dict(family=FONT, size=9, color="black"))
    layout["yaxis" + sx] = dict(anchor=xa, showline=True, linecolor="black", linewidth=1.2,
                                tickcolor="black", **common_y)
    layout["yaxis" + str(k + 6)] = dict(anchor=xa, overlaying=ya, side="right", showline=True,
                                        linecolor="#7a7a7a", linewidth=2.5, tickcolor="black",
                                        **common_y)

    for m in p["members"]:
        fig.add_trace(go.Scatter(x=T_MEM, y=m, xaxis=xa, yaxis=ya, mode="lines",
                                 line=dict(color=MEMBER_COLOR, width=1.2), hoverinfo="skip"))
    fig.add_trace(go.Scatter(x=T6, y=p["ctrl"], xaxis=xa, yaxis=ya, mode="lines", name="Control",
                             line=dict(color=CTRL_COLOR, width=1.8, dash="5px,3px")))
    fig.add_trace(go.Scatter(x=T6, y=p["mean"], xaxis=xa, yaxis=ya, mode="lines", name="Ens mn",
                             line=dict(color=MEAN_COLOR, width=2.6, dash="2.6px,2px")))
    fig.add_trace(go.Scatter(x=T_OPER, y=p["oper"], xaxis=xa, yaxis=ya, mode="lines", name="Oper",
                             line=dict(color=OPER_COLOR, width=2)))

    for v in p["dotted"]:
        shapes.append(dict(type="line", xref=xa, yref=ya, x0=0, x1=360, y0=v, y1=v,
                           line=dict(color="black", width=1, dash="1px,2px"), layer="below"))
    for v in p["magenta"]:
        shapes.append(dict(type="line", xref=xa, yref=ya, x0=0, x1=360, y0=v, y1=v,
                           line=dict(color=MAGENTA, width=2, dash="6px,3px"), layer="above"))
    for v in p["solid"]:
        shapes.append(dict(type="line", xref=xa, yref=ya, x0=0, x1=360, y0=v, y1=v,
                           line=dict(color="black", width=3), layer="above"))

    # small "00" midnight labels between the day names
    for h in midnights:
        annotations.append(dict(text=MIDNIGHT, x=h, xref=xa, y=fy(y1 + 4.6), yref="paper",
                                showarrow=False, xanchor="center", yanchor="middle",
                                font=dict(family=FONT, size=6.5, color="black")))

    # legend (drawn manually, stacked tightly as in the original)
    oper_leg = "#ff6a6a" if p["row"] == 1 else OPER_COLOR
    for dy, col, dash, wd in [(8, CTRL_COLOR, "5px,3px", 1.8), (14.5, oper_leg, "solid", 2),
                              (21, MEAN_COLOR, "2.6px,2px", 2.6)]:
        shapes.append(dict(type="line", xref="paper", yref="paper",
                           x0=fx(x0 + 2.5), x1=fx(x0 + 24.5), y0=fy(y0 + dy), y1=fy(y0 + dy),
                           line=dict(color=col, width=wd, dash=dash)))
    for dy, txt in [(8, "Control"), (14.5, "Oper"), (21, "Ens mn")]:
        annotations.append(ann(txt, x0 + 46, y0 + dy, 7, color="#202020"))

    xc = (x0 + x1) / 2
    annotations.append(ann(TITLE, xc, TITLE_Y[p["row"]], 10.5, bold=True))
    annotations.append(ann(STATION, x1 - 38, y0 + 7.2, 9.5))
    annotations.append(ann(p["var"], x1 - 38, y0 + 17.7, 9.5))
    annotations.append(ann(p["unit"], x0 - 21, (y0 + y1) / 2, 10, bold=True, angle=-90))
    annotations.append(ann("Dag", xc, y1 + 19, 10.5, bold=True))
    annotations.append(ann(SOURCE, x0 + 308, y1 + 19, 6.5, color="#0000ff", bold=True))

# panel separators and outer frame
SEP = "#3030ff"
shapes.append(dict(type="line", xref="paper", yref="paper", x0=fx(389.5), x1=fx(389.5), y0=0, y1=1,
                   line=dict(color=SEP, width=1.5)))
for ypx in (183.5, 368.3):
    shapes.append(dict(type="line", xref="paper", yref="paper", x0=0, x1=1, y0=fy(ypx), y1=fy(ypx),
                       line=dict(color=SEP, width=1.5)))
for (ax0, ax1, ay0, ay1) in [(0, 3, 0, H), (773, W, 0, H), (0, W, 551, H)]:
    shapes.append(dict(type="rect", xref="paper", yref="paper", x0=fx(ax0), x1=fx(ax1),
                       y0=fy(ay1), y1=fy(ay0), fillcolor=FRAME, line=dict(width=0)))

layout["annotations"] = annotations
layout["shapes"] = shapes
fig.update_layout(**layout)
fig.write_html("out.html", config={"displayModeBar": False},
               post_script="document.body.style.margin='0';document.body.style.overflow='hidden';")
